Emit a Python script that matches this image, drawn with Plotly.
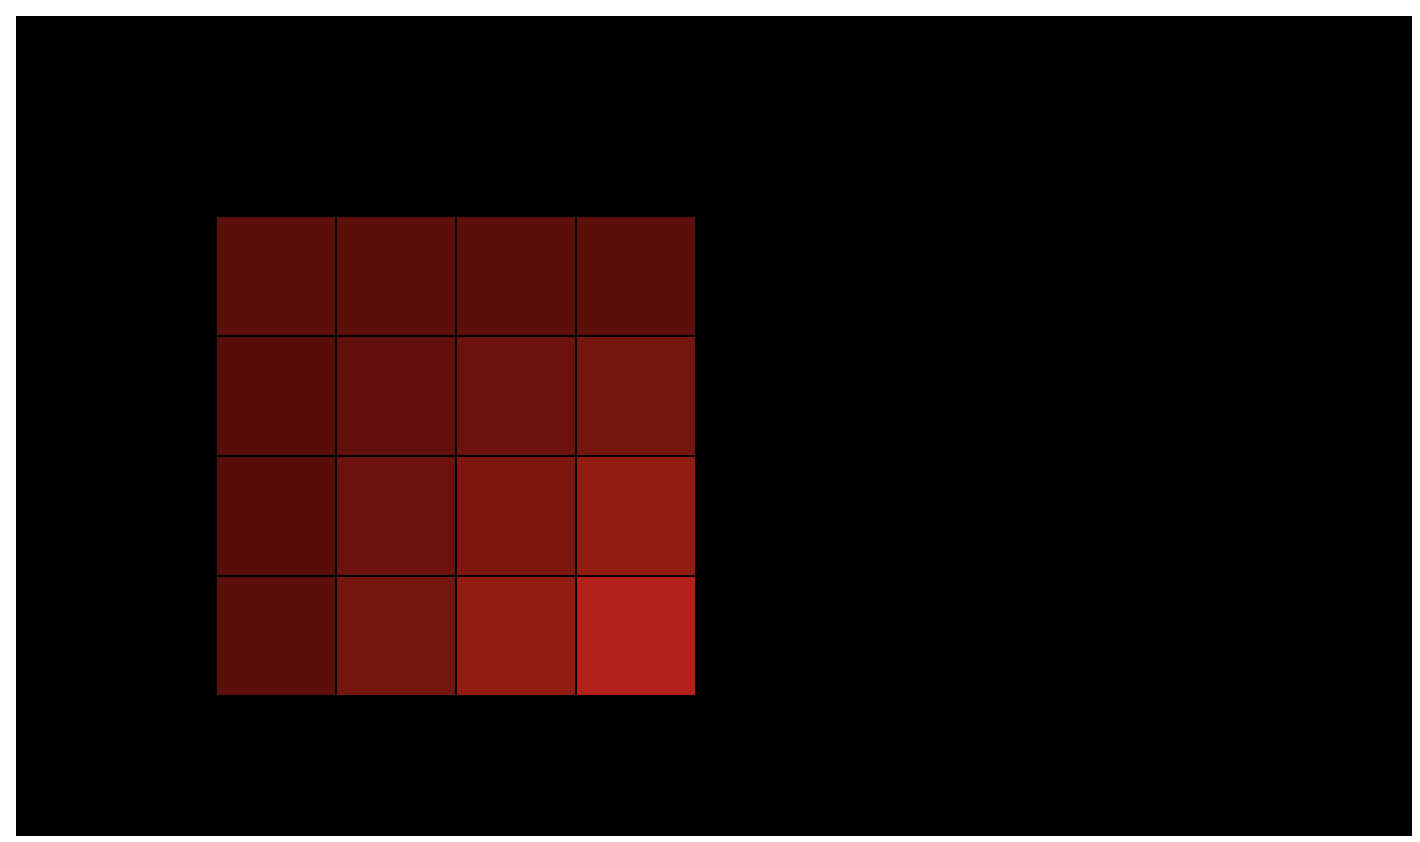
import plotly.graph_objects as go

x_labels = ["C1", "C2", "C3", "C4"]
y_labels = ["R1", "R2", "R3", "R4"]
# rows listed top to bottom
values = [
    [0.4, 0.3, 0.3, 0.4],
    [0.0, 1.0, 2.0, 3.0],
    [0.0, 2.0, 4.0, 6.0],
    [0.3, 3.0, 6.0, 9.0],
]

fig = go.Figure(
    go.Heatmap(
        z=values,
        x=x_labels,
        y=y_labels,
        colorscale=[[0, "#570e09"], [1, "#b0221a"]],
        zmin=0,
        zmax=9,
        xgap=2,
        ygap=2,
        showscale=False,
        hoverinfo="skip",
    )
)
fig.update_layout(
    width=1404,
    height=828,
    margin=dict(l=8, r=0, t=8, b=0),
    paper_bgcolor="white",
    plot_bgcolor="black",
    xaxis=dict(visible=False, range=[-0.5 - 200 / 120, -0.5 + 1196 / 120]),
    yaxis=dict(visible=False, range=[-0.5 + 620 / 120, -0.5 - 200 / 120]),
    showlegend=False,
)
fig.write_html("out.html", config={"responsive": False})
